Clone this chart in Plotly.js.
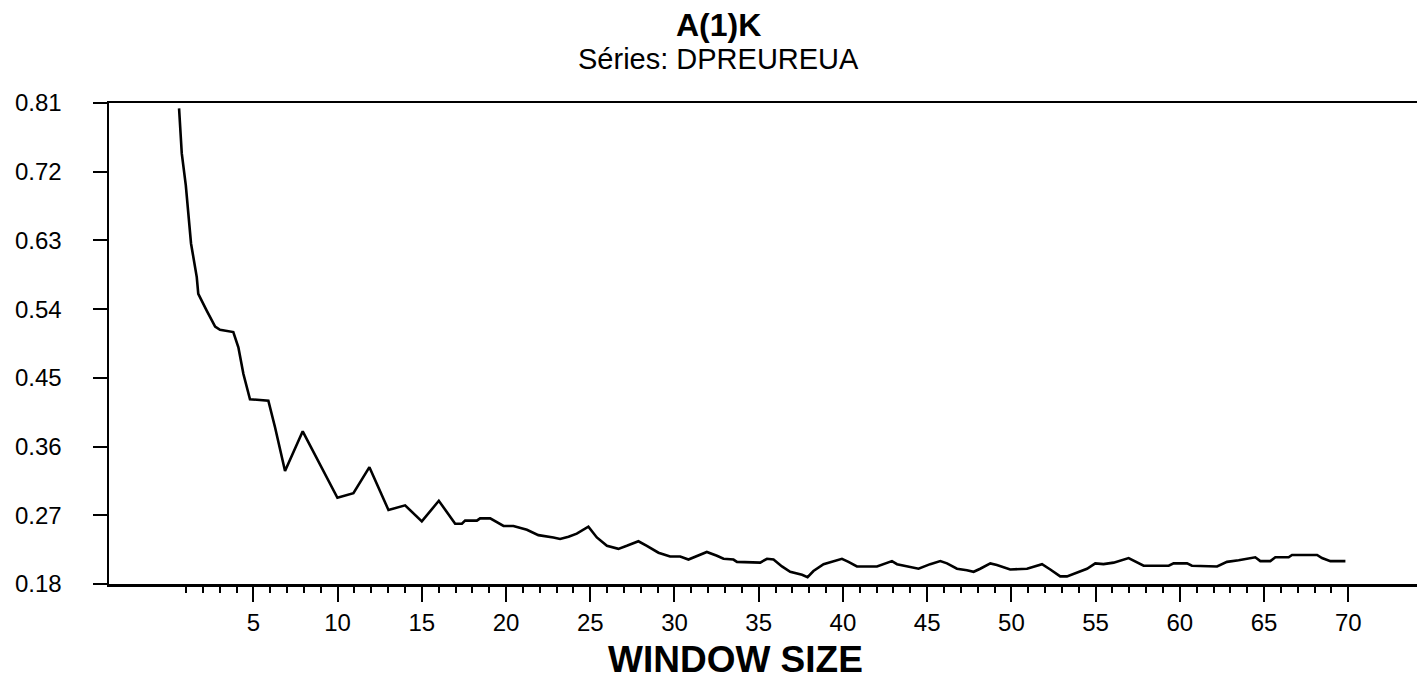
<!DOCTYPE html>
<html>
<head>
<meta charset="utf-8">
<script src="https://cdn.plot.ly/plotly-3.0.1.min.js"></script>
<style>
  html, body { margin: 0; padding: 0; background: #ffffff; }
  #chart { width: 1417px; height: 684px; }
</style>
</head>
<body>
<div id="chart"></div>
<script>
// A(1)K statistic against window size, series DPREUREUA
const windowSize = [
  0.59, 0.65, 0.75, 0.99, 1.14, 1.30, 1.64, 1.73, 2.23, 2.73,
  3.02, 3.81, 4.11, 4.41, 4.80, 5.89, 6.29, 6.88, 7.93, 9.99,
  10.94, 11.89, 13.02, 14.01, 15.00, 16.01, 16.98, 17.38, 17.57, 18.27,
  18.46, 19.06, 19.85, 20.44, 21.24, 21.92, 22.81, 23.21, 23.71, 24.20,
  24.89, 25.39, 25.99, 26.67, 27.17, 27.86, 28.36, 29.05, 29.74, 30.34,
  30.83, 31.33, 31.92, 32.52, 32.91, 33.50, 33.71, 35.09, 35.49, 35.88,
  36.38, 36.87, 37.57, 37.90, 38.25, 38.85, 39.44, 39.94, 40.33, 40.83,
  42.02, 42.41, 42.91, 43.21, 43.80, 44.49, 45.18, 45.78, 46.18, 46.77,
  47.36, 47.76, 48.15, 48.75, 49.14, 49.93, 50.93, 51.82, 52.31, 52.90,
  53.30, 53.90, 54.49, 54.98, 55.47, 56.07, 56.96, 57.85, 59.34, 59.63,
  60.43, 60.72, 62.21, 62.80, 63.49, 64.48, 64.78, 65.37, 65.67, 66.46,
  66.66, 68.15, 68.44, 68.94, 69.83
];
const a1k = [
  0.803, 0.785, 0.744, 0.702, 0.665, 0.626, 0.582, 0.560, 0.538, 0.517,
  0.513, 0.510, 0.490, 0.455, 0.422, 0.420, 0.385, 0.328, 0.380, 0.293,
  0.299, 0.333, 0.277, 0.283, 0.262, 0.289, 0.259, 0.259, 0.263, 0.263,
  0.266, 0.266, 0.256, 0.256, 0.251, 0.244, 0.241, 0.239, 0.242, 0.246,
  0.255, 0.241, 0.230, 0.226, 0.230, 0.236, 0.230, 0.221, 0.216, 0.216,
  0.212, 0.217, 0.222, 0.217, 0.213, 0.212, 0.209, 0.208, 0.213, 0.212,
  0.203, 0.196, 0.192, 0.189, 0.197, 0.206, 0.210, 0.213, 0.209, 0.203,
  0.203, 0.206, 0.210, 0.206, 0.203, 0.200, 0.206, 0.210, 0.207, 0.200,
  0.198, 0.196, 0.200, 0.207, 0.205, 0.199, 0.200, 0.206, 0.199, 0.190,
  0.190, 0.195, 0.200, 0.207, 0.206, 0.208, 0.214, 0.204, 0.204, 0.207,
  0.207, 0.204, 0.203, 0.209, 0.211, 0.215, 0.210, 0.210, 0.215, 0.215,
  0.218, 0.218, 0.214, 0.210, 0.210
];

const xTickVals = [5, 10, 15, 20, 25, 30, 35, 40, 45, 50, 55, 60, 65, 70];
const xTickText = ["5", "10", "15", "20", "25", "30", "35", "40", "45", "50", "55", "60", "65", "70"];
const yTickVals = [0.18, 0.27, 0.36, 0.45, 0.54, 0.63, 0.72, 0.81];
const yTickText = ["0.18", "0.27", "0.36", "0.45", "0.54", "0.63", "0.72", "0.81"];

const chartTitle = "A(1)K";
const chartSubtitle = "Séries: DPREUREUA";
const xTitle = "WINDOW SIZE";

// unit minor ticks between the labelled ones, up to the last window
const minorTicks = [];
for (let k = 1; k < 70; k++) {
  if (k % 5 !== 0) minorTicks.push(k);
}

const FONT = "Liberation Sans, Arial, Helvetica, sans-serif";

const trace = {
  type: "scatter",
  mode: "lines",
  x: windowSize,
  y: a1k,
  line: { color: "#000000", width: 2.6, shape: "linear" },
  hoverinfo: "skip"
};

const layout = {
  width: 1417,
  height: 684,
  margin: { l: 109, r: 0, t: 103, b: 100, pad: 0 },
  paper_bgcolor: "#ffffff",
  plot_bgcolor: "#ffffff",
  showlegend: false,
  font: { family: FONT, color: "#000000" },
  xaxis: {
    range: [-3.57, 74.08],
    tickmode: "array",
    tickvals: xTickVals,
    ticktext: xTickText,
    ticks: "outside",
    ticklen: 15,
    tickwidth: 2,
    tickcolor: "#000000",
    ticklabelstandoff: 1,
    tickfont: { family: FONT, size: 24, color: "#000000" },
    showline: true,
    linecolor: "#000000",
    linewidth: 2.5,
    mirror: true,
    showgrid: false,
    zeroline: false,
    minor: {
      tickmode: "array",
      tickvals: minorTicks,
      ticks: "outside",
      ticklen: 6,
      tickwidth: 2,
      tickcolor: "#000000",
      showgrid: false
    }
  },
  yaxis: {
    range: [0.18, 0.81],
    tickmode: "array",
    tickvals: yTickVals,
    ticktext: yTickText,
    ticks: "outside",
    ticklen: 14,
    tickwidth: 2,
    tickcolor: "#000000",
    ticklabelstandoff: 26,
    tickfont: { family: FONT, size: 24, color: "#000000" },
    showline: true,
    linecolor: "#000000",
    linewidth: 2.5,
    showgrid: false,
    zeroline: false
  },
  annotations: [
    {
      text: "<b>" + chartTitle + "</b>",
      xref: "paper", yref: "paper",
      x: 0.4656, y: 1.1632,
      xanchor: "center", yanchor: "middle",
      showarrow: false,
      font: { family: FONT, size: 32, color: "#000000" }
    },
    {
      text: chartSubtitle,
      xref: "paper", yref: "paper",
      x: 0.4656, y: 1.0915,
      xanchor: "center", yanchor: "middle",
      showarrow: false,
      font: { family: FONT, size: 29, color: "#000000" }
    },
    {
      text: "<b>" + xTitle + "</b>",
      xref: "paper", yref: "paper",
      x: 0.4786, y: -0.156,
      xanchor: "center", yanchor: "middle",
      showarrow: false,
      font: { family: FONT, size: 37, color: "#000000" }
    }
  ]
};

Plotly.newPlot("chart", [trace], layout, { staticPlot: true, displayModeBar: false });
</script>
</body>
</html>
